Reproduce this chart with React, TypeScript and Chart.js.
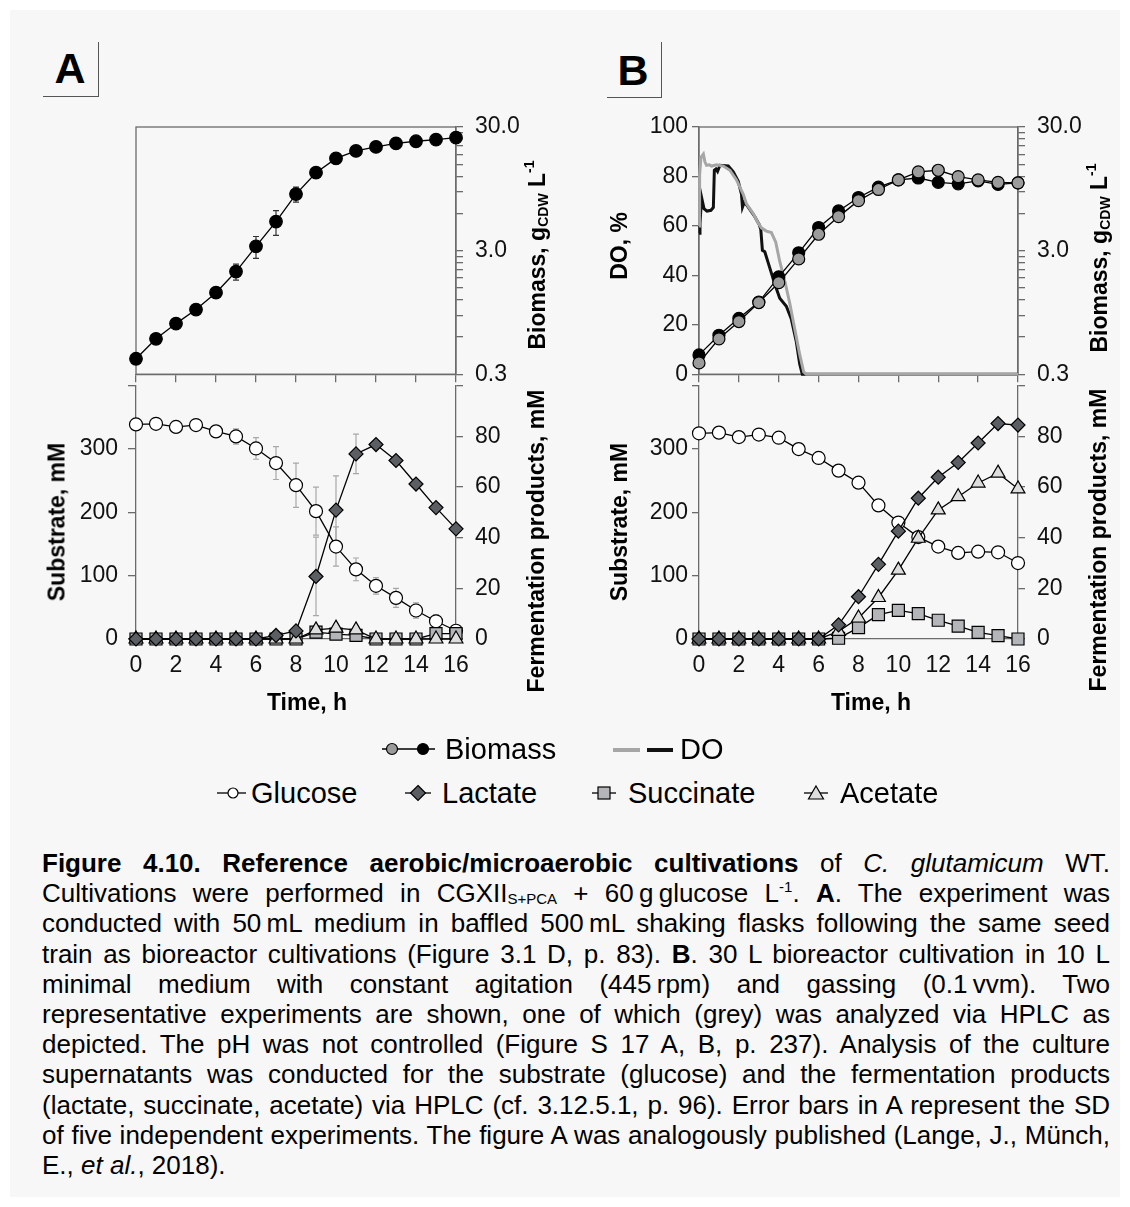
import React, { useEffect, useRef } from 'react';
import { Chart, registerables } from 'chart.js';

Chart.register(...registerables);

const FONT = "'Liberation Sans', Arial, Helvetica, sans-serif";
const AXIS = '#6b6b6b';
const TICK_COLOR = '#111';

// ---------------- data ----------------
const hours = [0, 1, 2, 3, 4, 5, 6, 7, 8, 9, 10, 11, 12, 13, 14, 15, 16];
const timeTicks = [0, 2, 4, 6, 8, 10, 12, 14, 16];
const substrateTicks = [0, 100, 200, 300, 400];
const productTicks = [0, 20, 40, 60, 80, 100];
const doTicks = [0, 20, 40, 60, 80, 100];
const biomassTicks = [0.3, 0.6, 0.9, 1.2, 1.5, 1.8, 2.1, 2.4, 2.7, 3, 6, 9, 12, 15, 18, 21, 24, 27, 30];
const biomassLabelValues = [0.3, 3, 30];
const biomassLabelTexts = ['0.3', '3.0', '30.0'];

// Panel A (shaking flasks)
const biomassA = [0.40, 0.58, 0.77, 1.00, 1.37, 2.03, 3.25, 5.15, 8.6, 12.8, 16.7, 19.2, 20.7, 22.1, 23.0, 23.7, 24.6];
const biomassASD = [0, 0, 0, 0, 0, 0.3, 0.65, 1.17, 1.2, 1.1, 0, 0, 0, 0, 0, 0, 0];
const glucoseA = [339, 340, 335, 338, 328, 320, 301, 278, 243, 202, 146, 110, 84, 65, 45, 28, 13];
const glucoseASD = [0, 0, 0, 0, 4, 12, 17, 26, 35, 38, 31, 18, 13, 15, 12, 10, 4];
const lactateA = [0, 0, 0, 0, 0, 0, 0, 1.4, 3.2, 24.7, 50.9, 73.1, 76.8, 70.5, 61.2, 51.9, 43.5];
const lactateASD = [0, 0, 0, 0, 0, 0, 0, 0.5, 1, 15.5, 13.5, 7.8, 0, 0, 0, 0, 0];
const succinateA = [0, 0, 0, 0, 0, 0, 0, 0, 0, 2.7, 1.9, 1.4, 0, 0, 0, 2.1, 2.1];
const succinateASD = [0, 0, 0, 0, 0, 0, 0, 0, 0, 1, 1, 1, 0, 0, 0, 0.5, 0.5];
const acetateA = [0, 0, 0, 0, 0, 0, 0, 0, 0, 3.6, 4.3, 3.6, 0, 0, 0, 0, 0];
const acetateASD = [0, 0, 0, 0, 0, 0, 0, 0, 0, 1.5, 1.5, 1.5, 0, 0, 0, 0, 0];

// Panel B (bioreactor)
const biomassB1 = [0.43, 0.62, 0.85, 1.15, 1.84, 2.88, 4.61, 6.28, 8.07, 9.78, 11.2, 11.6, 10.7, 10.4, 11.0, 10.3, 10.6];
const biomassB2 = [0.37, 0.58, 0.80, 1.14, 1.65, 2.57, 4.07, 5.65, 7.61, 9.37, 11.2, 13.0, 13.4, 11.9, 11.2, 10.7, 10.6];
const glucoseB = [325, 326, 319, 323, 318, 300, 286, 266, 247, 211, 184, 161, 146, 136, 138, 137, 120];
const lactateB = [0, 0, 0, 0, 0, 0, 0, 5.6, 16.7, 29.5, 42.6, 55.6, 63.9, 69.7, 77.4, 85.1, 84.5];
const succinateB = [0, 0, 0, 0, 0, 0, 0, 0.3, 4.5, 9.6, 11.3, 10.0, 7.4, 5.1, 2.6, 1.3, 0];
const acetateB = [0, 0, 0, 0, 0, 0, 0, 3.0, 8.3, 16.4, 27.2, 39.8, 51.0, 56.2, 61.6, 65.5, 59.3];

const doBlackTime = [0, 0.05, 0.13, 0.25, 0.4, 0.6, 0.72, 0.77, 0.85, 0.93, 1.05, 1.47, 1.72, 1.97, 2.13, 2.18, 2.27, 2.47, 2.8, 3.02, 3.1, 3.18, 3.3, 3.55, 3.8, 4.05, 4.38, 4.63, 4.88, 5.05, 5.18, 16];
const doBlackValue = [57, 61, 71.5, 67, 66, 66.3, 67.5, 82.5, 83, 82, 84.5, 84.2, 81.9, 78, 72.8, 67.6, 69.6, 67.6, 63.7, 60.5, 58.5, 50.1, 49.5, 43, 36.5, 30.7, 27.5, 22.3, 13.2, 4.1, 0, 0];
const doGreyTime = [0, 0.03, 0.1, 0.22, 0.3, 0.38, 0.52, 0.63, 0.88, 1.22, 1.55, 1.88, 2.22, 2.38, 2.72, 2.97, 3.13, 3.38, 3.63, 3.85, 4.05, 4.3, 4.55, 4.8, 5.05, 5.25, 5.38, 16];
const doGreyValue = [60, 80.6, 87.7, 89, 85.8, 84.5, 84.7, 84.2, 84.7, 84.2, 82.5, 78.6, 72.8, 68.9, 65, 61.1, 59.2, 57.9, 57.3, 53.4, 45.6, 37.8, 28.8, 18.4, 8, 0.9, 0, 0];

// ---------------- helpers ----------------
const pts = (xs: number[], ys: number[]) => xs.map((x, i) => ({ x, y: ys[i] }));
const tickFont = { family: FONT, size: 23 };

const errorBarPlugin = {
  id: 'errorBars',
  beforeDatasetsDraw(chart: any) {
    const ctx = chart.ctx;
    chart.data.datasets.forEach((ds: any, i: number) => {
      if (!ds.errorValues) return;
      const meta = chart.getDatasetMeta(i);
      const xs = chart.scales[meta.xAxisID];
      const ys = chart.scales[meta.yAxisID];
      ctx.save();
      ctx.strokeStyle = ds.errorColor || '#999';
      ctx.lineWidth = 1.2;
      ds.data.forEach((p: any, j: number) => {
        const e = ds.errorValues[j];
        if (!e) return;
        const x = xs.getPixelForValue(p.x);
        const yT = ys.getPixelForValue(p.y + e);
        const yB = ys.getPixelForValue(Math.max(p.y - e, ys.min));
        ctx.beginPath();
        ctx.moveTo(x, yT); ctx.lineTo(x, yB);
        ctx.moveTo(x - 3, yT); ctx.lineTo(x + 3, yT);
        ctx.moveTo(x - 3, yB); ctx.lineTo(x + 3, yB);
        ctx.stroke();
      });
      ctx.restore();
    });
  },
};

const framePlugin = {
  id: 'frame',
  beforeDatasetsDraw(chart: any) {
    const { ctx, chartArea } = chart;
    ctx.save();
    ctx.strokeStyle = AXIS;
    ctx.lineWidth = 1.3;
    ctx.strokeRect(chartArea.left, chartArea.top, chartArea.right - chartArea.left, chartArea.bottom - chartArea.top);
    ctx.restore();
  },
};

function xAxis(showLabels: boolean, height: number) {
  return {
    type: 'linear', position: 'bottom', min: 0, max: 16,
    afterBuildTicks: (s: any) => { s.ticks = timeTicks.map((v) => ({ value: v })); },
    ticks: { display: showLabels, autoSkip: false, maxRotation: 0, minRotation: 0, font: tickFont, color: TICK_COLOR, padding: 13 },
    grid: { display: true, drawOnChartArea: false, drawTicks: !showLabels, tickLength: 8, color: AXIS, lineWidth: 1.3 },
    border: { display: true, color: AXIS, width: 1.3 },
    afterFit: (s: any) => { s.height = height; },
  };
}

function linAxis(position: string, min: number, max: number, ticksArr: number[], hideTop: boolean, width: number, tickLen: number, pad: number) {
  return {
    type: 'linear', position, min, max,
    afterBuildTicks: (s: any) => { s.ticks = ticksArr.map((v) => ({ value: v })); },
    ticks: {
      autoSkip: false, font: tickFont, color: TICK_COLOR, padding: pad,
      callback: (v: any) => (hideTop && v === max ? '' : String(v)),
    },
    grid: { display: true, drawOnChartArea: false, drawTicks: true, tickLength: tickLen, color: AXIS, lineWidth: 1.3 },
    border: { display: true, color: AXIS, width: 1.3 },
    afterFit: (s: any) => { s.width = width; },
  };
}

function logAxis(width: number) {
  return {
    type: 'logarithmic', position: 'right', min: 0.3, max: 30,
    afterBuildTicks: (s: any) => { s.ticks = biomassTicks.map((v) => ({ value: v })); },
    ticks: {
      autoSkip: false, font: tickFont, color: TICK_COLOR, padding: 12,
      callback: (v: any) => {
        const i = biomassLabelValues.findIndex((b) => Math.abs(b - Number(v)) < 1e-9);
        return i >= 0 ? biomassLabelTexts[i] : '';
      },
    },
    grid: { display: true, drawOnChartArea: false, drawTicks: true, tickLength: 7, color: AXIS, lineWidth: 1.3 },
    border: { display: true, color: AXIS, width: 1.3 },
    afterFit: (s: any) => { s.width = width; },
  };
}

const base = { borderColor: '#000', borderWidth: 1.3, tension: 0, fill: false, clip: false, pointBorderColor: '#000', pointBorderWidth: 1.2 };

function marker(style: string, radius: number, bg: string) {
  return { ...base, pointStyle: style, pointRadius: radius, pointHoverRadius: radius, pointBackgroundColor: bg, backgroundColor: bg };
}

const commonOptions = (padLeft: number, padTop: number) => ({
  animation: false, responsive: false, maintainAspectRatio: false, events: [],
  layout: { padding: { left: padLeft, top: padTop, right: 0, bottom: 0 } },
  plugins: { legend: { display: false }, tooltip: { enabled: false }, title: { display: false } },
});

function productDatasets(glu: number[], lac: number[], suc: number[], ace: number[], sd?: any) {
  return [
    { label: 'Lactate', data: pts(hours, lac), yAxisID: 'yR', order: 0, ...marker('rectRot', 7, '#5b5f63'), errorValues: sd ? sd.lac : undefined, errorColor: '#a8a8a8' },
    { label: 'Acetate', data: pts(hours, ace), yAxisID: 'yR', order: 1, ...marker('triangle', 8, '#dddddd'), errorValues: sd ? sd.ace : undefined, errorColor: '#a8a8a8' },
    { label: 'Succinate', data: pts(hours, suc), yAxisID: 'yR', order: 2, ...marker('rect', 8.5, '#b3b5b9'), errorValues: sd ? sd.suc : undefined, errorColor: '#a8a8a8' },
    { label: 'Glucose', data: pts(hours, glu), yAxisID: 'yL', order: 3, ...marker('circle', 6.5, '#ffffff'), errorValues: sd ? sd.glu : undefined, errorColor: '#a8a8a8' },
  ];
}

const topAConfig = {
  type: 'line',
  data: { datasets: [
    { label: 'Biomass', data: pts(hours, biomassA), yAxisID: 'yB', ...marker('circle', 6.3, '#000'), errorValues: biomassASD, errorColor: '#333' },
  ] },
  options: { ...commonOptions(76, 27), scales: { x: xAxis(false, 16), yB: logAxis(104) } },
  plugins: [framePlugin, errorBarPlugin],
};

const bottomAConfig = {
  type: 'line',
  data: { datasets: productDatasets(glucoseA, lactateA, succinateA, acetateA, { glu: glucoseASD, lac: lactateASD, suc: succinateASD, ace: acetateASD }) },
  options: { ...commonOptions(0, 24), scales: {
    x: xAxis(true, 71),
    yL: linAxis('left', 0, 400, substrateTicks, true, 76, 8, 10),
    yR: linAxis('right', 0, 100, productTicks, true, 104, 7, 12),
  } },
  plugins: [errorBarPlugin],
};

const topBConfig = {
  type: 'line',
  data: { datasets: [
    { label: 'Biomass (grey)', data: pts(hours, biomassB2), yAxisID: 'yB', order: 0, ...marker('circle', 6, '#9b9b9b') },
    { label: 'Biomass (black)', data: pts(hours, biomassB1), yAxisID: 'yB', order: 1, ...marker('circle', 6, '#000') },
    { label: 'DO (grey)', data: pts(doGreyTime, doGreyValue), yAxisID: 'yD', order: 2, ...base, borderColor: '#a6a6a6', borderWidth: 3, pointRadius: 0, pointHoverRadius: 0 },
    { label: 'DO (black)', data: pts(doBlackTime, doBlackValue), yAxisID: 'yD', order: 3, ...base, borderColor: '#111', borderWidth: 3, pointRadius: 0, pointHoverRadius: 0 },
  ] },
  options: { ...commonOptions(0, 27), scales: {
    x: xAxis(false, 16),
    yD: linAxis('left', 0, 100, doTicks, false, 79, 7, 4),
    yB: logAxis(112),
  } },
  plugins: [framePlugin],
};

const bottomBConfig = {
  type: 'line',
  data: { datasets: productDatasets(glucoseB, lactateB, succinateB, acetateB) },
  options: { ...commonOptions(0, 24), scales: {
    x: xAxis(true, 71),
    yL: linAxis('left', 0, 400, substrateTicks, true, 79, 7, 4),
    yR: linAxis('right', 0, 100, productTicks, true, 112, 7, 12),
  } },
  plugins: [],
};

function ChartBox({ config, left, top, width, height }: any) {
  const ref = useRef<HTMLCanvasElement>(null);
  useEffect(() => {
    const chart = new Chart(ref.current as HTMLCanvasElement, config as any);
    return () => chart.destroy();
  }, []);
  return <canvas ref={ref} width={width} height={height} style={{ position: 'absolute', left, top, width, height }} />;
}

function VTitle({ cx, cy, children }: any) {
  return (
    <div style={{ position: 'absolute', left: cx, top: cy, transform: 'translate(-50%,-50%) rotate(-90deg)', whiteSpace: 'nowrap', fontWeight: 'bold', fontSize: 23, lineHeight: 1 }}>
      {children}
    </div>
  );
}

function HTitle({ cx, cy, children }: any) {
  return (
    <div style={{ position: 'absolute', left: cx, top: cy, transform: 'translate(-50%,-50%)', whiteSpace: 'nowrap', fontWeight: 'bold', fontSize: 23, lineHeight: 1 }}>
      {children}
    </div>
  );
}

const BiomassTitle = () => (
  <>Biomass, g<span style={{ fontSize: 14, verticalAlign: '-0.2em' }}>CDW</span> L<span style={{ fontSize: 14, verticalAlign: '0.75em' }}>-1</span></>
);

function PanelLetter({ letter, x0, y0, w, h, cx, cy }: any) {
  return (
    <>
      <div style={{ position: 'absolute', left: x0, top: y0, width: w, height: h, borderRight: '1.6px solid #555', borderBottom: '1.6px solid #555', boxSizing: 'border-box' }} />
      <div style={{ position: 'absolute', left: cx, top: cy, transform: 'translate(-50%,-50%)', fontWeight: 'bold', fontSize: 43, lineHeight: 1 }}>{letter}</div>
    </>
  );
}

function LegText({ x, cy, children }: any) {
  return <div style={{ position: 'absolute', left: x, top: cy - 14, fontSize: 29, lineHeight: 1, whiteSpace: 'nowrap' }}>{children}</div>;
}

const captionLines: any[] = [
  <><b>Figure 4.10. Reference aerobic/microaerobic cultivations</b> of <i>C. glutamicum</i> WT.</>,
  <>Cultivations were performed in CGXII<span style={{ fontSize: 15, verticalAlign: '-0.15em', lineHeight: 0 }}>S+PCA</span> + 60{'\u202F'}g{'\u202F'}glucose L<span style={{ fontSize: 15, verticalAlign: '0.7em', lineHeight: 0 }}>-1</span>. <b>A</b>. The experiment was</>,
  <>conducted with 50{'\u202F'}mL medium in baffled 500{'\u202F'}mL shaking flasks following the same seed</>,
  <>train as bioreactor cultivations (Figure 3.1 D, p. 83). <b>B</b>. 30 L bioreactor cultivation in 10 L</>,
  <>minimal medium with constant agitation (445{'\u202F'}rpm) and gassing (0.1{'\u202F'}vvm). Two</>,
  <>representative experiments are shown, one of which (grey) was analyzed via HPLC as</>,
  <>depicted. The pH was not controlled (Figure S 17 A, B, p. 237). Analysis of the culture</>,
  <>supernatants was conducted for the substrate (glucose) and the fermentation products</>,
  <>(lactate, succinate, acetate) via HPLC (cf. 3.12.5.1, p. 96). Error bars in A represent the SD</>,
  <>of five independent experiments. The figure A was analogously published (Lange, J., Münch,</>,
  <>E., <i>et al.</i>, 2018).</>,
];

export default function App() {
  return (
    <div style={{ position: 'absolute', left: 0, top: 0, width: 1130, height: 1207, background: '#ffffff', fontFamily: FONT, color: '#000', overflow: 'hidden' }}>
      <div style={{ position: 'absolute', left: 10, top: 10, width: 1110, height: 1187, background: '#f7f7f7' }} />

      <PanelLetter letter="A" x0={43} y0={42} w={56} h={55} cx={70} cy={68} />
      <PanelLetter letter="B" x0={607} y0={42} w={55} h={56} cx={633} cy={70} />

      <ChartBox config={topAConfig} left={60} top={100} width={500} height={300} />
      <ChartBox config={bottomAConfig} left={60} top={360} width={500} height={350} />
      <ChartBox config={topBConfig} left={620} top={100} width={510} height={300} />
      <ChartBox config={bottomBConfig} left={620} top={360} width={510} height={350} />

      <VTitle cx={536} cy={255}><BiomassTitle /></VTitle>
      <VTitle cx={536} cy={541}>Fermentation products, mM</VTitle>
      <VTitle cx={57} cy={522}>Substrate, mM</VTitle>
      <HTitle cx={307} cy={702}>Time, h</HTitle>

      <VTitle cx={619} cy={246}>DO, %</VTitle>
      <VTitle cx={619} cy={522}>Substrate, mM</VTitle>
      <VTitle cx={1098} cy={258}><BiomassTitle /></VTitle>
      <VTitle cx={1098} cy={540}>Fermentation products, mM</VTitle>
      <HTitle cx={871} cy={702}>Time, h</HTitle>

      {/* legend row 1 */}
      <svg style={{ position: 'absolute', left: 376, top: 739 }} width={66} height={20}>
        <line x1={6} y1={10} x2={59} y2={10} stroke="#000" strokeWidth={1.3} />
        <circle cx={16} cy={10} r={5.5} fill="#9b9b9b" stroke="#000" strokeWidth={1.2} />
        <circle cx={47} cy={10} r={5.5} fill="#000" stroke="#000" strokeWidth={1.2} />
      </svg>
      <LegText x={445} cy={749}>Biomass</LegText>
      <svg style={{ position: 'absolute', left: 610, top: 740 }} width={70} height={20}>
        <line x1={3} y1={10} x2={30} y2={10} stroke="#a6a6a6" strokeWidth={4} />
        <line x1={37} y1={10} x2={63} y2={10} stroke="#111" strokeWidth={4} />
      </svg>
      <LegText x={680} cy={749}>DO</LegText>

      {/* legend row 2 */}
      <svg style={{ position: 'absolute', left: 212, top: 783 }} width={40} height={20}>
        <line x1={5} y1={10} x2={34} y2={10} stroke="#000" strokeWidth={1.3} />
        <circle cx={21} cy={10} r={5} fill="#fff" stroke="#000" strokeWidth={1.2} />
      </svg>
      <LegText x={251} cy={793}>Glucose</LegText>
      <svg style={{ position: 'absolute', left: 400, top: 783 }} width={36} height={20}>
        <line x1={5} y1={10} x2={31} y2={10} stroke="#000" strokeWidth={1.3} />
        <polygon points="18,2.5 25.5,10 18,17.5 10.5,10" fill="#5b5f63" stroke="#000" strokeWidth={1.2} />
      </svg>
      <LegText x={442} cy={793}>Lactate</LegText>
      <svg style={{ position: 'absolute', left: 588, top: 783 }} width={32} height={20}>
        <line x1={4} y1={10} x2={28} y2={10} stroke="#000" strokeWidth={1.3} />
        <rect x={10} y={4} width={12} height={12} fill="#b3b5b9" stroke="#000" strokeWidth={1.2} />
      </svg>
      <LegText x={628} cy={793}>Succinate</LegText>
      <svg style={{ position: 'absolute', left: 800, top: 783 }} width={32} height={20}>
        <line x1={4} y1={10} x2={28} y2={10} stroke="#000" strokeWidth={1.3} />
        <polygon points="16,3 23.5,16 8.5,16" fill="#dddddd" stroke="#000" strokeWidth={1.2} />
      </svg>
      <LegText x={840} cy={793}>Acetate</LegText>

      {/* caption */}
      {captionLines.map((ln, i) => (
        <div key={i} style={{
          position: 'absolute', left: 42, top: 848 + i * 30.2, width: 1068, fontSize: 26, lineHeight: '30.2px',
          textAlign: 'justify', textAlignLast: i < captionLines.length - 1 ? 'justify' : 'left', whiteSpace: 'nowrap',
        } as any}>{ln}</div>
      ))}
    </div>
  );
}
